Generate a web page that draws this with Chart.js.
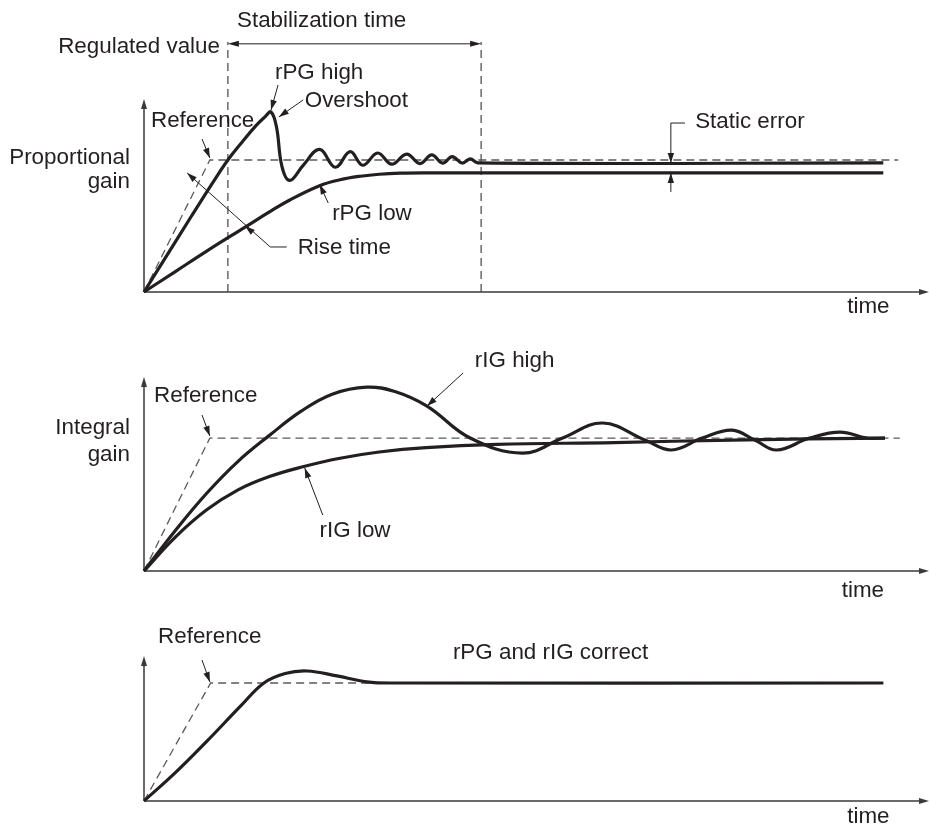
<!DOCTYPE html>
<html>
<head>
<meta charset="utf-8">
<script src="https://cdn.jsdelivr.net/npm/chart.js@4.4.0/dist/chart.umd.min.js"></script>
<style>
  body { margin: 0; background: #fff; }
  #wrap { position: relative; width: 930px; height: 825px; }
  canvas { position: absolute; left: 0; }
</style>
</head>
<body>
<div id="wrap">
  <canvas id="pgChart" width="930" height="320" style="top:0"></canvas>
  <canvas id="igChart" width="930" height="280" style="top:320px"></canvas>
  <canvas id="okChart" width="930" height="225" style="top:600px"></canvas>
</div>
<script>
// time runs 0..100, values are relative to the reference (= 1)

// proportional gain
const refT1 = [0, 8.4, 96.2]
const refV1 = [0, 1, 1]
const rpgHighT = [0, 3, 6, 9, 10.7, 12.5, 14.2, 15.4, 16.2, 16.9, 17.6, 18.6, 20.3, 22.4, 24.4, 26.3, 27.9, 29.8, 31.6, 33.5, 35.2, 36.7, 38.1, 39.3, 40.6, 41.6, 42.6, 94.3]
const rpgHighV = [0, 0.285, 0.57, 0.85, 1.0, 1.135, 1.255, 1.325, 1.364, 1.25, 0.95, 0.845, 0.96, 1.08, 0.945, 1.063, 0.96, 1.053, 0.968, 1.045, 0.973, 1.038, 0.976, 1.025, 0.977, 1.008, 0.978, 0.978]
const rpgLowT = [0, 4, 8, 12.9, 16, 18.6, 22.4, 25, 27.6, 30, 32.7, 36, 94.3]
const rpgLowV = [0, 0.155, 0.31, 0.492, 0.607, 0.697, 0.805, 0.85, 0.877, 0.892, 0.9, 0.902, 0.902]

// integral gain
const refT2 = [0, 8.4, 96.4]
const refV2 = [0, 1, 1]
const rigHighT = [0, 4, 8, 12, 16, 20, 24, 28.4, 32, 36.1, 41.6, 48.3, 53.4, 58.5, 63.9, 67.3, 71.2, 75.0, 77.9, 80.7, 84.9, 88.8, 92.2, 94.5]
const rigHighV = [0, 0.305, 0.585, 0.825, 1.02, 1.2, 1.33, 1.383, 1.35, 1.24, 1.0, 0.887, 1.0, 1.113, 0.985, 0.91, 1.0, 1.06, 0.985, 0.91, 1.0, 1.045, 1.0, 1.0]
const rigLowT = [0, 4, 8, 12, 16, 20, 25, 30, 36, 45, 60, 75, 94.5]
const rigLowV = [0, 0.255, 0.46, 0.61, 0.71, 0.78, 0.848, 0.895, 0.928, 0.952, 0.966, 0.985, 1.0]

// both correct
const refT3 = [0, 8.5, 94.3]
const refV3 = [0, 1, 1]
const okT = [0, 4, 8, 12.4, 15.3, 18.0, 20.8, 24.6, 28.4, 32, 94.3]
const okV = [0, 0.24, 0.505, 0.81, 1.0, 1.08, 1.102, 1.06, 1.01, 1.0, 1.0]

const ink = '#231f20'
const font = '22.4px "Liberation Sans", Arial, sans-serif'

const pts = (t, v) => t.map((x, i) => ({ x, y: v[i] }))

function arrowHead(ctx, fx, fy, tx, ty, len, half) {
  const a = Math.atan2(ty - fy, tx - fx)
  const c = Math.cos(a), s = Math.sin(a)
  ctx.beginPath()
  ctx.moveTo(tx, ty)
  ctx.lineTo(tx - len * c + half * s, ty - len * s - half * c)
  ctx.lineTo(tx - len * c - half * s, ty - len * s + half * c)
  ctx.closePath()
  ctx.fill()
}

function diagram(notes) {
  return {
    id: 'diagram',
    beforeDatasetsDraw(chart) {
      const { ctx, scales: { x, y } } = chart
      const px = v => x.getPixelForValue(v), py = v => y.getPixelForValue(v)
      ctx.save()
      // axes with arrows
      ctx.strokeStyle = '#3a3a3a'
      ctx.fillStyle = '#3a3a3a'
      ctx.lineWidth = 1.5
      const x0 = px(0), y0 = py(0), yt = py(y.max), xr = px(x.max) + 1
      ctx.beginPath()
      ctx.moveTo(x0, y0); ctx.lineTo(x0, yt + 4)
      ctx.moveTo(x0, y0); ctx.lineTo(xr - 4, y0)
      ctx.stroke()
      arrowHead(ctx, x0, y0, x0, yt, 10, 3)
      arrowHead(ctx, x0, y0, xr, y0, 10, 3)
      // dashed guides
      ctx.strokeStyle = '#444'
      ctx.lineWidth = 1.2
      ctx.setLineDash([8, 5])
      ;(notes.guides || []).forEach(g => {
        ctx.beginPath()
        ctx.moveTo(px(g.x), py(g.y0))
        ctx.lineTo(px(g.x), py(g.y1))
        ctx.stroke()
      })
      ctx.restore()
    },
    afterDatasetsDraw(chart) {
      const { ctx, scales: { x, y } } = chart
      const px = v => x.getPixelForValue(v), py = v => y.getPixelForValue(v)
      ctx.save()
      ctx.strokeStyle = ink
      ctx.fillStyle = ink
      ctx.lineWidth = 1
      ;(notes.spans || []).forEach(s => {
        const a = px(s.x0), b = px(s.x1), yy = py(s.y)
        ctx.beginPath(); ctx.moveTo(a + 4, yy); ctx.lineTo(b - 4, yy); ctx.stroke()
        arrowHead(ctx, b, yy, a, yy, 11, 3)
        arrowHead(ctx, a, yy, b, yy, 11, 3)
      })
      ;(notes.leaders || []).forEach(l => {
        ctx.beginPath()
        l.line.forEach((p, i) => i ? ctx.lineTo(px(p[0]), py(p[1])) : ctx.moveTo(px(p[0]), py(p[1])))
        ctx.stroke()
        l.heads.forEach(h => arrowHead(ctx, px(h[0][0]), py(h[0][1]), px(h[1][0]), py(h[1][1]), 10, 3.2))
      })
      ctx.font = font
      ctx.textBaseline = 'alphabetic'
      ;(notes.texts || []).forEach(t => {
        ctx.textAlign = t.align || 'left'
        ctx.fillText(t.t, px(t.x), py(t.y))
      })
      ctx.restore()
    }
  }
}

function curve(data) {
  return { data, borderColor: ink, borderWidth: 3.2, pointRadius: 0, tension: 0.4, clip: false }
}
function reference(data) {
  return { data, borderColor: '#5a5a5a', borderWidth: 1.3, borderDash: [8, 5], pointRadius: 0, tension: 0, clip: false }
}

function panel(id, datasets, ymax, pad, notes) {
  new Chart(document.getElementById(id), {
    type: 'line',
    data: { datasets },
    options: {
      responsive: false,
      animation: false,
      events: [],
      layout: { padding: pad },
      scales: {
        x: { type: 'linear', min: 0, max: 100, display: false },
        y: { type: 'linear', min: 0, max: ymax, display: false }
      },
      plugins: { legend: { display: false }, tooltip: { enabled: false } }
    },
    plugins: [diagram(notes)]
  })
}

panel('pgChart', [
  curve(pts(rpgHighT, rpgHighV)),
  curve(pts(rpgLowT, rpgLowV)),
  reference(pts(refT1, refV1))
], 1.462, { left: 144, right: 2, top: 99, bottom: 28 }, {
  guides: [{ x: 10.7, y0: 0, y1: 1.894 }, { x: 43.0, y0: 0, y1: 1.894 }],
  spans: [{ y: 1.88, x0: 10.7, x1: 43.0 }],
  leaders: [
    { line: [[17.1, 1.568], [16.2, 1.379]], heads: [[[17.1, 1.568], [16.2, 1.379]]] },
    { line: [[20.3, 1.455], [17.2, 1.326]], heads: [[[20.3, 1.455], [17.2, 1.326]]] },
    { line: [[7.4, 1.159], [8.4, 1.015]], heads: [[[7.4, 1.159], [8.4, 1.015]]] },
    { line: [[23.5, 0.674], [22.4, 0.815]], heads: [[[23.5, 0.674], [22.4, 0.815]]] },
    { line: [[18.2, 0.341], [16.1, 0.341], [5.5, 0.902]], heads: [[[16.1, 0.341], [12.9, 0.5]], [[16.1, 0.341], [5.5, 0.902]]] },
    { line: [[69.0, 1.28], [67.2, 1.28], [67.2, 0.977]], heads: [[[67.2, 1.1], [67.2, 0.977]]] },
    { line: [[67.2, 0.758], [67.2, 0.902]], heads: [[[67.2, 0.8], [67.2, 0.902]]] }
  ],
  texts: [
    { t: 'Stabilization time', x: 11.86, y: 2.008 },
    { t: 'Regulated value', x: 9.69, y: 1.811, align: 'right' },
    { t: 'rPG high', x: 16.7, y: 1.614 },
    { t: 'Overshoot', x: 20.5, y: 1.402 },
    { t: 'Reference', x: 0.89, y: 1.25 },
    { t: 'Proportional', x: -1.79, y: 0.97, align: 'right' },
    { t: 'gain', x: -1.79, y: 0.788, align: 'right' },
    { t: 'rPG low', x: 24.0, y: 0.545 },
    { t: 'Rise time', x: 19.6, y: 0.288 },
    { t: 'Static error', x: 70.3, y: 1.242 },
    { t: 'time', x: 89.7, y: -0.159 }
  ]
})

panel('igChart', [
  curve(pts(rigHighT, rigHighV)),
  curve(pts(rigLowT, rigLowV)),
  reference(pts(refT2, refV2))
], 1.459, { left: 144, right: 2, top: 57, bottom: 29 }, {
  leaders: [
    { line: [[7.4, 1.173], [8.4, 1.015]], heads: [[[7.4, 1.173], [8.4, 1.015]]] },
    { line: [[40.7, 1.489], [36.1, 1.24]], heads: [[[40.7, 1.489], [36.1, 1.24]]] },
    { line: [[22.8, 0.421], [20.5, 0.775]], heads: [[[22.8, 0.421], [20.5, 0.775]]] }
  ],
  texts: [
    { t: 'Reference', x: 1.28, y: 1.271 },
    { t: 'Integral', x: -1.79, y: 1.03, align: 'right' },
    { t: 'gain', x: -1.79, y: 0.827, align: 'right' },
    { t: 'rIG high', x: 42.2, y: 1.534 },
    { t: 'rIG low', x: 22.4, y: 0.256 },
    { t: 'time', x: 89.0, y: -0.195 }
  ]
})

panel('okChart', [
  curve(pts(okT, okV)),
  reference(pts(refT3, refV3))
], 1.229, { left: 144, right: 2, top: 56, bottom: 24 }, {
  leaders: [
    { line: [[7.4, 1.195], [8.4, 1.008]], heads: [[[7.4, 1.195], [8.4, 1.008]]] }
  ],
  texts: [
    { t: 'Reference', x: 1.79, y: 1.339 },
    { t: 'rPG and rIG correct', x: 39.4, y: 1.203 },
    { t: 'time', x: 89.7, y: -0.186 }
  ]
})
</script>
</body>
</html>
